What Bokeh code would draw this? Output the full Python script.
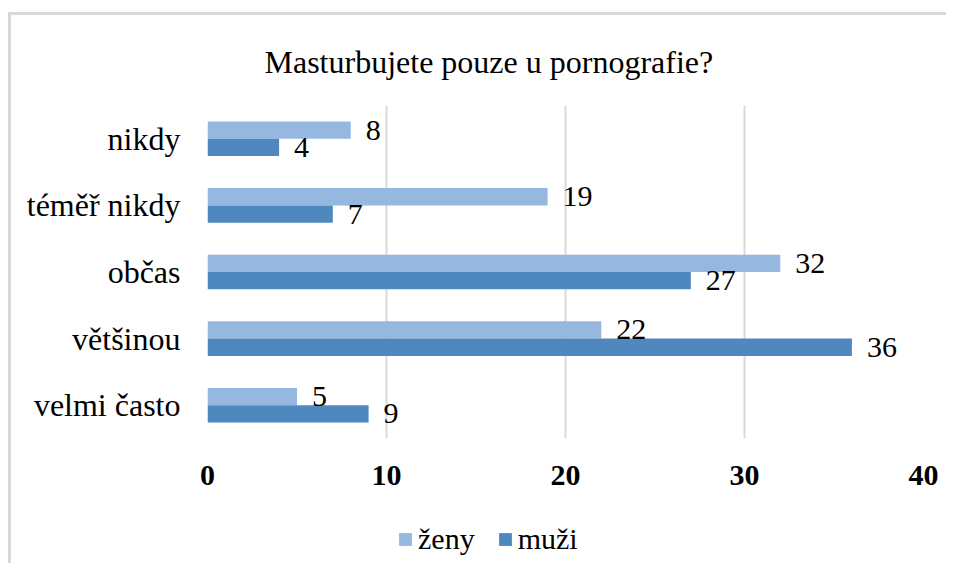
from bokeh.plotting import figure
from bokeh.layouts import column
from bokeh.models import ColumnDataSource, FactorRange, LabelSet, Legend, LegendItem, Range1d, FixedTicker
from bokeh.transform import dodge
from bokeh.embed import file_html
from bokeh.resources import INLINE

categories = ["nikdy", "téměř nikdy", "občas", "většinou", "velmi často"]
zeny = [8, 19, 32, 22, 5]
muzi = [4, 7, 27, 36, 9]
x_ticks = [0, 10, 20, 30, 40]
series_names = ["ženy", "muži"]
title_text = "Masturbujete pouze u pornografie?"

SERIF = "Liberation Serif"
C_ZENY = "#95B7E0"
C_MUZI = "#4F88BE"
BORDER = "3px solid #d9d9d9"

factors = list(reversed(categories))
src = ColumnDataSource(dict(cat=categories, zeny=zeny, muzi=muzi))

p = figure(width=938, height=489, y_range=FactorRange(*factors), x_range=Range1d(0, 40),
           output_backend="svg", toolbar_location=None,
           min_border_left=196, min_border_right=26, min_border_top=85, min_border_bottom=66)
p.styles = {"border-left": BORDER, "border-top": BORDER}

p.title.text = title_text
p.title.text_font = SERIF
p.title.text_font_style = "normal"
p.title.text_font_size = "32px"
p.title.text_color = "#000000"
p.title.align = "left"
p.title.offset = 57
p.title.standoff = 52

r1 = p.hbar(y=dodge("cat", 0.13, range=p.y_range), right="zeny", height=0.26, left=0,
            source=src, fill_color=C_ZENY, line_color=None)
r2 = p.hbar(y=dodge("cat", -0.13, range=p.y_range), right="muzi", height=0.26, left=0,
            source=src, fill_color=C_MUZI, line_color=None)

for col, off in (("zeny", 0.13), ("muzi", -0.13)):
    p.add_layout(LabelSet(x=col, y=dodge("cat", off, range=p.y_range), text=col, source=src,
                          x_offset=15, text_align="left", text_baseline="middle",
                          text_font_size="30px", text_font=SERIF, text_color="#000000"))

p.xaxis.ticker = FixedTicker(ticks=x_ticks)
p.xaxis.axis_line_color = None
p.xaxis.major_tick_line_color = None
p.xaxis.minor_tick_line_color = None
p.xaxis.major_label_text_font = SERIF
p.xaxis.major_label_text_font_style = "bold"
p.xaxis.major_label_text_font_size = "30px"
p.xaxis.major_label_text_color = "#000000"
p.xaxis.major_label_standoff = 21

p.yaxis.axis_line_color = None
p.yaxis.major_tick_line_color = None
p.yaxis.minor_tick_line_color = None
p.yaxis.major_label_text_font = SERIF
p.yaxis.major_label_text_font_size = "32px"
p.yaxis.major_label_text_color = "#000000"
p.yaxis.major_label_standoff = 21

p.xgrid.grid_line_color = "#d9d9d9"
p.xgrid.grid_line_width = 2
p.ygrid.grid_line_color = None
p.outline_line_color = None

# legend strip below the chart (swatches reuse the chart's data, drawn off-range)
pl = figure(width=938, height=62, x_range=Range1d(0, 1), y_range=Range1d(0, 1),
            output_backend="svg", toolbar_location=None,
            x_axis_location=None, y_axis_location=None,
            min_border_left=26, min_border_right=0, min_border_top=0, min_border_bottom=0)
pl.styles = {"border-left": BORDER}
pl.outline_line_color = None
pl.xgrid.visible = False
pl.ygrid.visible = False
lsrc = ColumnDataSource(dict(y=[-10] * len(zeny), zeny=zeny, muzi=muzi))
d1 = pl.hbar(y="y", right="zeny", height=0.1, source=lsrc, fill_color=C_ZENY, line_color=None)
d2 = pl.hbar(y="y", right="muzi", height=0.1, source=lsrc, fill_color=C_MUZI, line_color=None)
legend = Legend(items=[LegendItem(label=series_names[0], renderers=[d1]),
                       LegendItem(label=series_names[1], renderers=[d2])],
                orientation="horizontal", location=(190, 7),
                label_text_font=SERIF, label_text_font_size="30px", label_text_color="#000000",
                glyph_width=16, glyph_height=16, label_standoff=5, spacing=22,
                border_line_color=None, background_fill_alpha=0, padding=0, margin=0)
pl.add_layout(legend, "center")

layout = column(p, pl, spacing=0)
layout.margin = (12, 0, 0, 8)

open("out.html", "w").write(file_html(layout, INLINE))
